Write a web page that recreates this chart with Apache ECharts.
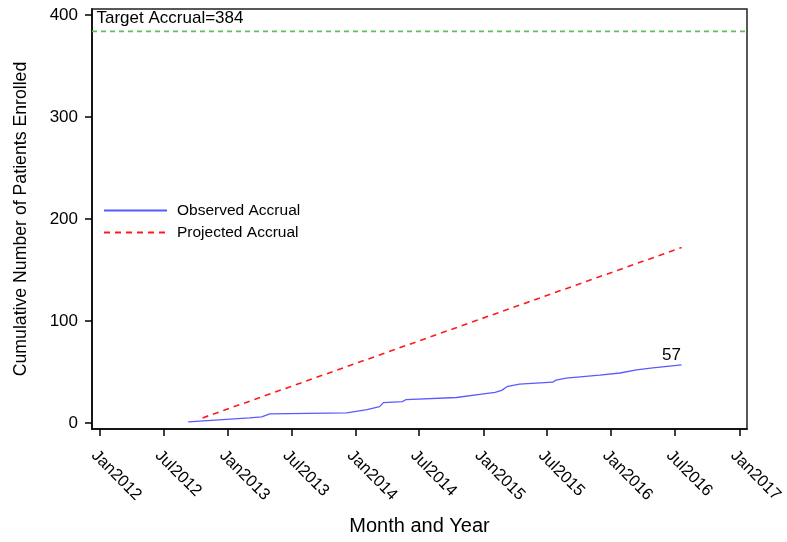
<!DOCTYPE html>
<html>
<head>
<meta charset="utf-8">
<script src="https://cdn.jsdelivr.net/npm/echarts@6/dist/echarts.min.js"></script>
<style>
  html, body { margin: 0; padding: 0; background: #fff; }
  #chart { width: 787px; height: 542px; }
</style>
</head>
<body>
<div id="chart"></div>
<script>
// observed cumulative accrual
var obsDates = ['2012-09-09', '2013-03-03', '2013-04-07', '2013-04-30', '2013-12-06', '2014-02-02',
  '2014-03-10', '2014-03-21', '2014-05-14', '2014-05-25', '2014-10-16', '2014-12-21',
  '2015-02-03', '2015-02-22', '2015-03-11', '2015-04-14', '2015-07-18', '2015-07-27',
  '2015-08-25', '2015-11-29', '2016-01-26', '2016-03-13', '2016-04-29', '2016-07-20'];
var obsCounts = [1, 5, 6, 9, 10, 13, 16, 20, 21, 23, 25, 28, 30, 32, 36, 38, 40, 42, 44, 47, 49, 52, 54, 57];

// projected accrual, straight line
var projDates = ['2012-10-20', '2016-07-20'];
var projCounts = [5, 172];

var targetAccrual = 384;
var axisStart = '2011-12-09';
var axisEnd = '2017-01-23';

var xTickDates = ['2012-01-01', '2012-07-01', '2013-01-01', '2013-07-01', '2014-01-01', '2014-07-01',
  '2015-01-01', '2015-07-01', '2016-01-01', '2016-07-01', '2017-01-01'];
var yTicks = [0, 100, 200, 300, 400];

var monthNames = ['Jan', 'Feb', 'Mar', 'Apr', 'May', 'Jun', 'Jul', 'Aug', 'Sep', 'Oct', 'Nov', 'Dec'];
var font = "'Liberation Sans', Arial, sans-serif";

// dates are plotted as day numbers on a value axis
function toTime(s) {
  var p = s.split('-');
  return Date.UTC(+p[0], +p[1] - 1, +p[2]) / 86400000;
}

var obsData = obsDates.map(function (d, i) { return [toTime(d), obsCounts[i]]; });
var projData = projDates.map(function (d, i) { return [toTime(d), projCounts[i]]; });
var targetData = [[toTime(axisStart), targetAccrual], [toTime(axisEnd), targetAccrual]];
var lastObs = obsData[obsData.length - 1];

var myChart = echarts.init(document.getElementById('chart'));

var option = {
  animation: false,
  backgroundColor: '#fff',
  grid: {
    left: 92, top: 9, right: 40, bottom: 113,
    show: true, borderColor: '#222', borderWidth: 1.5
  },
  legend: {
    orient: 'vertical',
    left: 103,
    top: 202.5,
    padding: 0,
    itemWidth: 63,
    itemHeight: 16,
    itemGap: 6,
    selectedMode: false,
    itemStyle: { opacity: 0 },
    textStyle: { fontSize: 15.5, color: '#000', fontFamily: font, padding: [0, 0, 0, 5] },
    data: ['Observed Accrual', 'Projected Accrual']
  },
  xAxis: {
    type: 'value',
    min: toTime(axisStart),
    max: toTime(axisEnd),
    name: 'Month and Year',
    nameLocation: 'middle',
    nameGap: 87,
    nameTextStyle: { fontSize: 20, color: '#000', fontFamily: font },
    axisLine: { onZero: false, lineStyle: { color: '#000', width: 1.5 } },
    axisTick: { show: true, length: 7, lineStyle: { color: '#000', width: 1.5 },
      customValues: xTickDates.map(toTime) },
    axisLabel: {
      customValues: xTickDates.map(toTime),
      rotate: -45, align: 'left', verticalAlign: 'top', margin: 18,
      fontSize: 16.5, color: '#000', fontFamily: font,
      formatter: function (v) {
        var d = new Date(Math.round(v) * 86400000);
        return monthNames[d.getUTCMonth()] + d.getUTCFullYear();
      }
    },
    splitLine: { show: false }
  },
  yAxis: {
    type: 'value',
    min: -5.9,
    max: 405.9,
    name: 'Cumulative Number of Patients Enrolled',
    nameLocation: 'middle',
    nameGap: 62,
    nameTextStyle: { fontSize: 17.7, color: '#000', fontFamily: font },
    axisLine: { show: true, onZero: false, lineStyle: { color: '#000', width: 1.5 } },
    axisTick: { show: true, length: 7, lineStyle: { color: '#000', width: 1.5 }, customValues: yTicks },
    axisLabel: { customValues: yTicks, margin: 14, fontSize: 17, color: '#000', fontFamily: font },
    splitLine: { show: false }
  },
  series: [
    {
      name: 'Target',
      type: 'line',
      symbol: 'none',
      silent: true,
      itemStyle: { color: '#5cc05c' },
      lineStyle: { color: '#5cc05c', width: 1.6, type: [5, 4], opacity: 1 },
      data: targetData,
      markPoint: {
        silent: true,
        symbol: 'circle',
        symbolSize: 1,
        itemStyle: { color: 'rgba(0,0,0,0)' },
        label: {
          show: true, position: 'right', distance: 4, offset: [0, -13],
          formatter: 'Target Accrual=' + targetAccrual,
          color: '#000', fontSize: 17, fontFamily: font
        },
        data: [{ coord: targetData[0] }]
      }
    },
    {
      name: 'Observed Accrual',
      type: 'line',
      symbol: 'none',
      itemStyle: { color: '#5a5aff' },
      lineStyle: { color: '#5a5aff', width: 1.3 },
      data: obsData,
      markPoint: {
        silent: true,
        symbol: 'circle',
        symbolSize: 1,
        itemStyle: { color: 'rgba(0,0,0,0)' },
        label: {
          show: true, position: 'top', distance: 1, offset: [-10, 0],
          formatter: String(lastObs[1]), color: '#000', fontSize: 17, fontFamily: font
        },
        data: [{ coord: lastObs }]
      }
    },
    {
      name: 'Projected Accrual',
      type: 'line',
      symbol: 'none',
      itemStyle: { color: '#ff1a1a' },
      lineStyle: { color: '#ff1a1a', width: 1.6, type: [6, 5] },
      data: projData
    }
  ]
};

myChart.setOption(option);
</script>
</body>
</html>
